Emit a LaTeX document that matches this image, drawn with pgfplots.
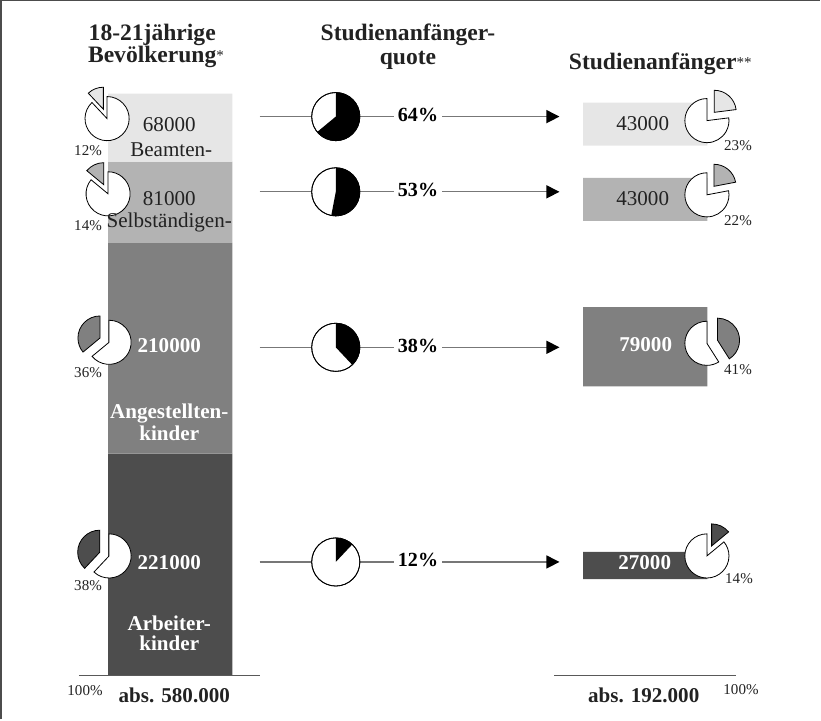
\documentclass[border=0pt]{standalone}
\usepackage{fontspec}
\setmainfont{Liberation Serif}
\usepackage{pgfplots}
\pgfplotsset{compat=1.18}
\usetikzlibrary{arrows.meta,calc}

\definecolor{cBeamt}{HTML}{E6E6E6}
\definecolor{cSelbst}{HTML}{B3B3B3}
\definecolor{cAngest}{HTML}{808080}
\definecolor{cArb}{HTML}{4D4D4D}
\definecolor{cLine}{HTML}{777777}
\definecolor{cText}{HTML}{222222}

\newcommand{\fT}{\fontsize{23.5}{24}\selectfont\bfseries}
\newcommand{\fV}{\fontsize{21}{22}\selectfont}
\newcommand{\fS}{\fontsize{15}{16}\selectfont}
\newcommand{\txt}[3]{\node[anchor=base,inner sep=0pt,text=cText] at (axis cs:#1,#2) {#3};}
\newcommand{\wtxt}[3]{\node[anchor=base,inner sep=0pt,text=white] at (axis cs:#1,#2) {\fV\bfseries #3};}

% pie with the share cut out to the upper left: x, y, percent, colour
\newcommand{\lpie}[4]{%
  \draw[fill=white,line width=0.8pt] (axis cs:#1,#2) -- ++({90+3.6*#3}:22pt)
    arc[start angle={90+3.6*#3}, end angle=450, radius=22pt] -- cycle;
  \draw[fill=#4,line width=0.8pt] ($(axis cs:#1,#2)+({90+1.8*#3}:10pt)$) -- ++(90:22pt)
    arc[start angle=90, end angle={90+3.6*#3}, radius=22pt] -- cycle;}
% pie with the share cut out to the upper right
\newcommand{\rpie}[4]{%
  \draw[fill=white,line width=0.8pt] (axis cs:#1,#2) -- ++(90:22pt)
    arc[start angle=90, end angle={450-3.6*#3}, radius=22pt] -- cycle;
  \draw[fill=#4,line width=0.8pt] ($(axis cs:#1,#2)+({90-1.8*#3}:11pt)$) -- ++({90-3.6*#3}:22pt)
    arc[start angle={90-3.6*#3}, end angle=90, radius=22pt] -- cycle;}
% quota: line, pie, label, arrow
\newcommand{\quota}[2]{%
  \draw[cLine,line width=1.3pt,-{Triangle[length=13pt,width=13pt,color=black]}]
    (axis cs:262,#1) -- (axis cs:561,#1);
  \draw[fill=white,line width=0.8pt] (axis cs:338,#1) circle[radius=24pt];
  \fill[black] (axis cs:338,#1) -- ++(90:24pt)
    arc[start angle=90, end angle={90-3.6*#2}, radius=24pt] -- cycle;
  \draw[line width=0.8pt] (axis cs:338,#1) circle[radius=24pt];
  \node[anchor=base,fill=white,inner xsep=4pt,inner ysep=2pt] at (axis cs:420,#1-5)
    {\fontsize{20}{22}\selectfont\bfseries #2\%};}

\begin{document}
\begin{tikzpicture}
\begin{axis}[
  width=821pt, height=719pt, scale only axis,
  xmin=0, xmax=821, ymin=-44, ymax=675,
  hide axis, clip=false,
  ybar stacked, reverse stacked plots=false, bar width=124,
]
% left: 18-21jaehrige (thousands), right: Studienanfaenger with empty spacers
\addplot[draw=none,fill=none] coordinates {(173,0) (646.5,96)};
\addplot[draw=none,fill=cArb] coordinates {(173,221) (646.5,27)};
\addplot[draw=none,fill=none] coordinates {(173,0) (646.5,165)};
\addplot[draw=none,fill=cAngest] coordinates {(173,210) (646.5,79)};
\addplot[draw=none,fill=none] coordinates {(173,0) (646.5,86)};
\addplot[draw=none,fill=cSelbst] coordinates {(173,81) (646.5,43)};
\addplot[draw=none,fill=none] coordinates {(173,0) (646.5,32)};
\addplot[draw=none,fill=cBeamt] coordinates {(173,68) (646.5,43)};

% frame (top and left only)
\draw[black!70,line width=1.5pt] (axis cs:4,-44) -- (axis cs:4,672.5) -- (axis cs:821,672.5);
% base lines
\draw[black!65,line width=1.5pt] (axis cs:82,0) -- (axis cs:262,0);
\draw[black!65,line width=1.5pt] (axis cs:556,0) -- (axis cs:737,0);

% quotas
\quota{557}{64}
\quota{482}{53}
\quota{327}{38}
\quota{113}{12}

% share pies
\lpie{110}{555}{12}{cBeamt}
\lpie{111}{480}{14}{cSelbst}
\lpie{112}{332}{36}{cAngest}
\lpie{112}{119}{38}{cArb}
\rpie{708}{553}{23}{cBeamt}
\rpie{708}{479}{22}{cSelbst}
\rpie{708}{331}{41}{cAngest}
\rpie{708}{119}{14}{cArb}

% titles
\txt{155}{633}{\fT 18-21jährige}
\txt{155}{611}{\fT Bevölkerung\rlap{\fS\mdseries\raisebox{2pt}{*}}}
\txt{410}{633}{\fT Studienanfänger-}
\txt{410}{609}{\fT quote}
\txt{654}{604}{\fT Studienanfänger\rlap{\fS\mdseries\raisebox{2pt}{**}}}

% left bar texts
\txt{172}{542}{\fV 68000}
\txt{174}{517}{\fV Beamten-}
\txt{172}{468}{\fV 81000}
\txt{172}{446}{\fV Selbständigen-}
\wtxt{172}{322}{210000}
\wtxt{172}{256}{Angestellten-}
\wtxt{172}{234}{kinder}
\wtxt{172}{105}{221000}
\wtxt{172}{45}{Arbeiter-}
\wtxt{172}{25}{kinder}
\txt{177}{-27}{\fV\bfseries abs. 580.000}
\txt{88}{-20}{\fS 100\%}

% right bar texts
\txt{644}{543}{\fV 43000}
\txt{644}{468}{\fV 43000}
\wtxt{647}{323}{79000}
\wtxt{646}{105}{27000}
\txt{739}{523}{\fS 23\%}
\txt{739}{448}{\fS 22\%}
\txt{739}{300}{\fS 41\%}
\txt{740}{92}{\fS 14\%}
\txt{645}{-27}{\fV\bfseries abs. 192.000}
\txt{742}{-19}{\fS 100\%}

% left percentages
\txt{91}{518}{\fS 12\%}
\txt{91}{443}{\fS 14\%}
\txt{91}{297}{\fS 36\%}
\txt{91}{85}{\fS 38\%}
\end{axis}
\end{tikzpicture}
\end{document}
